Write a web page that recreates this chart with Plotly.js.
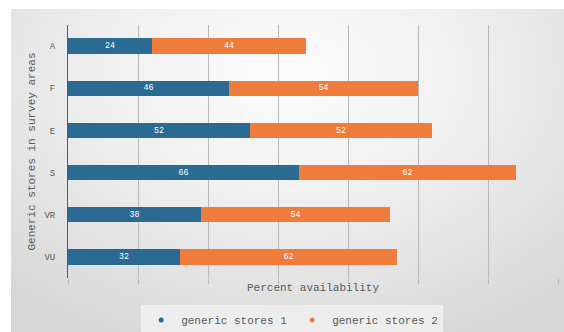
<!DOCTYPE html>
<html>
<head>
<meta charset="utf-8">
<script src="https://cdn.plot.ly/plotly-3.0.1.min.js"></script>
<style>
html,body{margin:0;padding:0;background:#ffffff;}
#wrap{position:relative;width:564px;height:332px;overflow:hidden;}
#bg{position:absolute;left:11px;top:9px;width:553px;height:323px;
 background:radial-gradient(ellipse 75% 90% at 50% 20%, #fcfcfc 0%, #f1f1f1 40%, #d7d7d7 100%);}
#chart{position:absolute;left:0;top:0;width:564px;height:332px;}
</style>
</head>
<body>
<div id="wrap"><div id="bg"></div><div id="chart"></div></div>
<script>
const categories = ["A", "F", "E", "S", "VR", "VU"];
const store1 = [24, 46, 52, 66, 38, 32];
const store2 = [44, 54, 52, 62, 54, 62];
const seriesNames = ["generic stores 1", "generic stores 2"];
const colors = ["#2b6a92", "#ef7c3b"];

const mono = "Liberation Mono, DejaVu Sans Mono, monospace";
const traces = [
  {type:"bar", orientation:"h", name:seriesNames[0], y:categories, x:store1, showlegend:false,
   marker:{color:colors[0]}, text:store1.map(String), textposition:"inside",
   insidetextanchor:"middle", textfont:{family:mono, size:10, color:"#ffffff"}},
  {type:"bar", orientation:"h", name:seriesNames[1], y:categories, x:store2, showlegend:false,
   marker:{color:colors[1]}, text:store2.map(String), textposition:"inside",
   insidetextanchor:"middle", textfont:{family:mono, size:10, color:"#ffffff"}},
  {type:"scatter", mode:"markers", name:seriesNames[0], x:[null], y:[null],
   marker:{color:colors[0], size:5, symbol:"circle"}},
  {type:"scatter", mode:"markers", name:seriesNames[1], x:[null], y:[null],
   marker:{color:colors[1], size:5, symbol:"circle"}}
];
const layout = {
  width:564, height:332,
  margin:{l:68, r:6, t:25, b:54},
  paper_bgcolor:"rgba(0,0,0,0)", plot_bgcolor:"rgba(0,0,0,0)",
  barmode:"stack", bargap:0.64,
  font:{family:mono, color:"#595959", size:9},
  xaxis:{range:[0,140], dtick:20, showticklabels:false, showgrid:true,
    gridcolor:"#b8b8b8", gridwidth:1, zeroline:false, ticks:"outside", ticklen:5,
    tickcolor:"#b8b8b8",
    title:{text:"Percent availability", font:{family:mono, size:11, color:"#595959"}, standoff:0}},
  yaxis:{autorange:"reversed", showline:true, linecolor:"#595959", linewidth:1,
    ticks:"", ticklabelstandoff:10, tickfont:{family:mono, size:9, color:"#595959"},
    title:{text:"Generic stores in survey areas", font:{family:mono, size:11, color:"#595959"}, standoff:6}},
  showlegend:true,
  legend:{orientation:"h", xref:"container", yref:"container", x:0.518, xanchor:"center",
    y:0.08, yanchor:"top",
    bgcolor:"rgba(238,238,238,0.9)", font:{family:mono, size:11, color:"#595959"},
    itemwidth:30, traceorder:"normal"}
};
Plotly.newPlot("chart", traces, layout, {displayModeBar:false, staticPlot:true});
</script>
</body>
</html>
